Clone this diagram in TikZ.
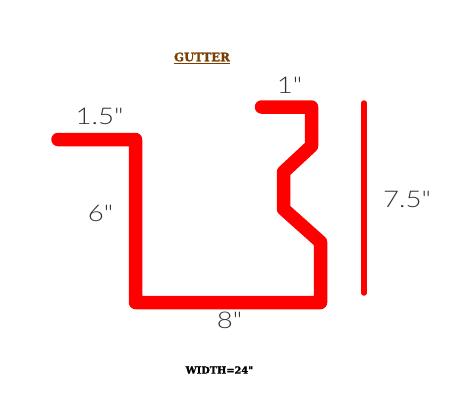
\documentclass[tikz,border=0pt]{standalone}
\usepackage{fontspec}
\newfontfamily\dimfont{Lato Light}
\newfontfamily\slabfont[FakeBold=1.5]{DejaVu Serif Bold}
\definecolor{gutterred}{RGB}{255,0,0}
\definecolor{titlebrown}{RGB}{122,62,0}
\tikzset{
  profile/.style={draw=gutterred,line width=13.5pt,line cap=round,line join=round},
  rule/.style={draw=gutterred,line width=5.5pt,line cap=round},
  dim/.style={inner sep=0pt,text=black!80,font=\dimfont\fontsize{23}{23}\selectfont,xscale=1.2,transform shape,anchor=center},
  slab/.style={inner sep=0pt,font=\slabfont\fontsize{11.7}{11.7}\selectfont,anchor=center}
}
\begin{document}
\begin{tikzpicture}[x=1pt,y=-1pt]
\useasboundingbox[fill=white] (0,0) rectangle (459,408);
\coordinate (p0) at (58,139.5);
\coordinate (p1) at (135.5,139.5);
\coordinate (p2) at (135.5,302.5);
\coordinate (p3) at (320.5,302.5);
\coordinate (p4) at (320.5,242);
\coordinate (p5) at (283.5,209);
\coordinate (p6) at (283.5,172);
\coordinate (p7) at (311.5,146);
\coordinate (p8) at (311.5,107);
\coordinate (p9) at (261.5,107);
\draw[profile] (p0) -- (p1) -- (p2) -- (p3) -- (p4) -- (p5) -- (p6) -- (p7) -- (p8) -- (p9);
\coordinate (r0) at (364,103);
\coordinate (r1) at (364,293);
\draw[rule] (r0) -- (r1);
\node[slab,text=titlebrown] (title) at (202,58) {\underline{GUTTER}};
\node[dim] (a) at (99.5,116.5) {1.5"};
\node[dim] (b) at (100.5,213) {6"};
\node[dim] (c) at (229.5,320) {8"};
\node[dim] (d) at (289.5,85) {1"};
\node[dim] (e) at (407,199) {7.5"};
\node[slab,text=black,font=\slabfont\fontsize{9.8}{9.8}\selectfont] (w) at (219.5,370) {WIDTH=24"};
\end{tikzpicture}
\end{document}
